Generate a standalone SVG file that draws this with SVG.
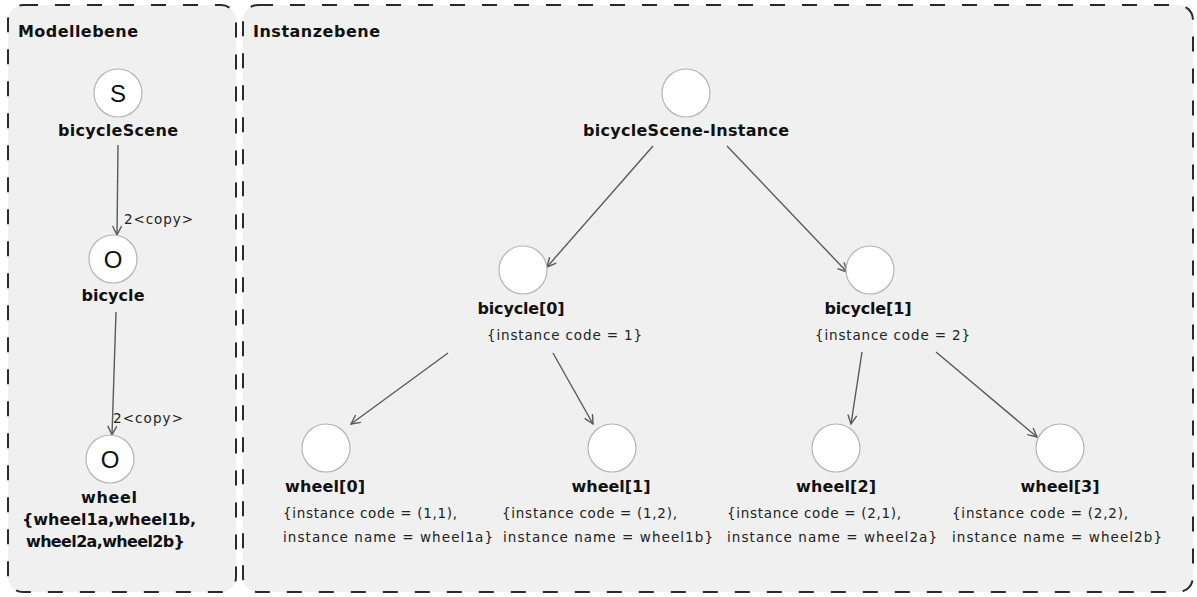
<svg xmlns="http://www.w3.org/2000/svg" width="1197" height="597" viewBox="0 0 1197 597">
  <style>
    .panel { fill: #f0f0f0; stroke: #2a2a2a; stroke-width: 2; stroke-dasharray: 15 17; }
    .node { fill: #ffffff; stroke: #b4b4b4; stroke-width: 1.2; }
    .title { font-family: "DejaVu Sans", Verdana, sans-serif; font-weight: bold; font-size: 16px; fill: #111; }
    .label { font-family: "DejaVu Sans", Verdana, sans-serif; font-weight: bold; font-size: 16px; fill: #111; text-anchor: middle; }
    .attr { font-family: "DejaVu Sans", Verdana, sans-serif; font-size: 13.5px; fill: #222; }
    .sym { font-family: "Liberation Sans", Arial, sans-serif; font-size: 24px; fill: #111; text-anchor: middle; }
    .edge { stroke: #5a5a5a; stroke-width: 1.4; fill: none; marker-end: url(#arrow); }
  </style>
  <defs>
    <marker id="arrow" markerUnits="userSpaceOnUse" markerWidth="12" markerHeight="12" refX="10" refY="5" orient="auto">
      <path d="M1,0.5 L10,5 L1,9.5" fill="none" stroke="#5a5a5a" stroke-width="1.4"/>
    </marker>
  </defs>

  <rect width="1197" height="597" fill="#ffffff"/>

  <!-- Model level panel -->
  <g id="modellebene">
    <rect class="panel" x="8" y="5" width="228" height="587" rx="15" ry="15"/>
    <text class="title" x="18" y="37" textLength="120" lengthAdjust="spacing">Modellebene</text>
  </g>

  <!-- Instance level panel -->
  <g id="instanzebene">
    <rect class="panel" x="243" y="5" width="950" height="587" rx="15" ry="15"/>
    <text class="title" x="253" y="37" textLength="127" lengthAdjust="spacing">Instanzebene</text>
  </g>

  <!-- Connectors -->
  <g id="connectors">
    <line class="edge" x1="118" y1="145" x2="117" y2="235"/>
    <text class="attr" x="124" y="224" textLength="69" lengthAdjust="spacing">2&lt;copy&gt;</text>
    <line class="edge" x1="116" y1="312" x2="112" y2="435"/>
    <text class="attr" x="113" y="423" textLength="70" lengthAdjust="spacing">2&lt;copy&gt;</text>

    <line class="edge" x1="653" y1="146" x2="547" y2="267"/>
    <line class="edge" x1="727" y1="146" x2="847" y2="272"/>
    <line class="edge" x1="448" y1="353" x2="351" y2="424"/>
    <line class="edge" x1="553" y1="353" x2="593" y2="424"/>
    <line class="edge" x1="862" y1="352" x2="851" y2="424"/>
    <line class="edge" x1="936" y1="352" x2="1037" y2="437"/>
  </g>

  <!-- Model nodes -->
  <g id="bicycleScene">
    <circle class="node" cx="118" cy="93" r="24"/>
    <text class="sym" x="118" y="102">S</text>
    <text class="label" x="118" y="136" textLength="120" lengthAdjust="spacing">bicycleScene</text>
  </g>
  <g id="bicycle">
    <circle class="node" cx="113" cy="259" r="24"/>
    <text class="sym" x="113" y="268">O</text>
    <text class="label" x="113" y="301" textLength="63" lengthAdjust="spacing">bicycle</text>
  </g>
  <g id="wheel">
    <circle class="node" cx="110" cy="459" r="24"/>
    <text class="sym" x="110" y="468">O</text>
    <text class="label" x="109" y="503" textLength="56" lengthAdjust="spacing">wheel</text>
    <text class="label" x="109" y="525" textLength="174" lengthAdjust="spacing">{wheel1a,wheel1b,</text>
    <text class="label" x="105.5" y="547" textLength="159" lengthAdjust="spacing">wheel2a,wheel2b}</text>
  </g>

  <!-- Instance nodes -->
  <g id="bicycleScene-Instance">
    <circle class="node" cx="686" cy="93" r="24"/>
    <text class="label" x="686" y="136" textLength="206" lengthAdjust="spacing">bicycleScene-Instance</text>
  </g>
  <g id="bicycle-0">
    <circle class="node" cx="523" cy="270" r="24"/>
    <text class="label" x="521" y="314" textLength="87" lengthAdjust="spacing">bicycle[0]</text>
    <text class="attr" x="487" y="340" textLength="155" lengthAdjust="spacing">{instance code = 1}</text>
  </g>
  <g id="bicycle-1">
    <circle class="node" cx="870" cy="270" r="24"/>
    <text class="label" x="868" y="314" textLength="87" lengthAdjust="spacing">bicycle[1]</text>
    <text class="attr" x="815" y="340" textLength="155" lengthAdjust="spacing">{instance code = 2}</text>
  </g>
  <g id="wheel-0">
    <circle class="node" cx="326" cy="448" r="24"/>
    <text class="label" x="325" y="492" textLength="80" lengthAdjust="spacing">wheel[0]</text>
    <text class="attr" x="283" y="518" textLength="174" lengthAdjust="spacing">{instance code = (1,1),</text>
    <text class="attr" x="283" y="542" textLength="210" lengthAdjust="spacing">instance name = wheel1a}</text>
  </g>
  <g id="wheel-1">
    <circle class="node" cx="612" cy="448" r="24"/>
    <text class="label" x="611" y="492" textLength="79" lengthAdjust="spacing">wheel[1]</text>
    <text class="attr" x="502" y="518" textLength="175" lengthAdjust="spacing">{instance code = (1,2),</text>
    <text class="attr" x="503" y="542" textLength="210" lengthAdjust="spacing">instance name = wheel1b}</text>
  </g>
  <g id="wheel-2">
    <circle class="node" cx="836" cy="448" r="24"/>
    <text class="label" x="836" y="492" textLength="80" lengthAdjust="spacing">wheel[2]</text>
    <text class="attr" x="727" y="518" textLength="174" lengthAdjust="spacing">{instance code = (2,1),</text>
    <text class="attr" x="727" y="542" textLength="210" lengthAdjust="spacing">instance name = wheel2a}</text>
  </g>
  <g id="wheel-3">
    <circle class="node" cx="1060" cy="448" r="24"/>
    <text class="label" x="1060" y="492" textLength="79" lengthAdjust="spacing">wheel[3]</text>
    <text class="attr" x="952" y="518" textLength="176" lengthAdjust="spacing">{instance code = (2,2),</text>
    <text class="attr" x="952" y="542" textLength="210" lengthAdjust="spacing">instance name = wheel2b}</text>
  </g>
</svg>
